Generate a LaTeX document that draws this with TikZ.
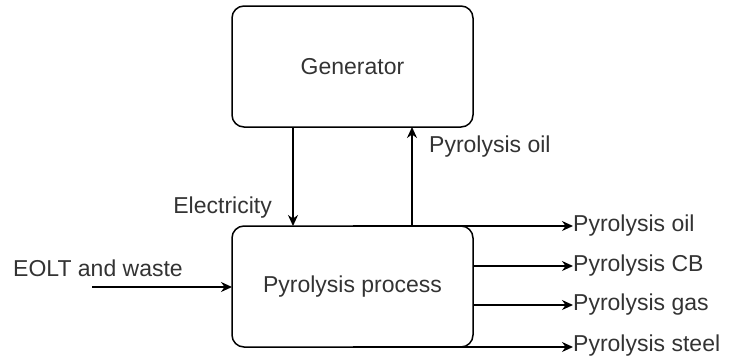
\documentclass[tikz,border=0pt]{standalone}
\usepackage{fontspec}
\setmainfont{Liberation Sans}
\usetikzlibrary{positioning,arrows.meta,calc}

\tikzset{
    block/.style={draw, line width=1.5pt, rounded corners=12pt, outer sep=0pt,
        minimum width=241pt, minimum height=121pt,
        font=\fontsize{23}{27}\selectfont, text=black!80},
    lbl/.style={inner sep=0pt, font=\fontsize{23}{27}\selectfont, text=black!80},
    flow/.style={line width=1.5pt, -{Stealth[length=11pt,width=10pt]}}
}

\begin{document}
\begin{tikzpicture}[x=1pt, y=-1pt]
    \useasboundingbox (0,0) rectangle (730,362);

    \node[block] (gen) at (352.5,66.5) {Generator};
    \node[block] (proc) at (352.5,286.5) {Pyrolysis process};

    % generator loop
    \draw[flow] ([xshift=-59.5pt]gen.south) -- ([xshift=-59.5pt]proc.north);
    \draw[flow] ([xshift=59.5pt]proc.north) -- ([xshift=59.5pt]gen.south);
    \node[lbl, anchor=east] (elec) at (272,208) {Electricity};
    \node[lbl, anchor=west] (oilback) at (429,147) {Pyrolysis oil};

    % input
    \node[lbl, anchor=west] (eolt) at (13,268) {EOLT and waste};
    \coordinate (src) at (92,287);
    \draw[flow] (src) -- (src -| proc.west);

    % outputs
    \foreach \n/\y/\txt in {oil/226/Pyrolysis oil, cb/266/Pyrolysis CB,
                            gas/305/Pyrolysis gas, steel/346/Pyrolysis steel}
        \node[lbl, anchor=west] (\n) at (573,\y) {\txt};

    \draw[flow] (proc.north) -- (proc.north -| oil.west);
    \foreach \n in {cb, gas}
        \draw[flow] (proc.east |- \n.west) -- (\n.west);
    \draw[flow] (proc.south) -- (proc.south -| steel.west);
\end{tikzpicture}
\end{document}
